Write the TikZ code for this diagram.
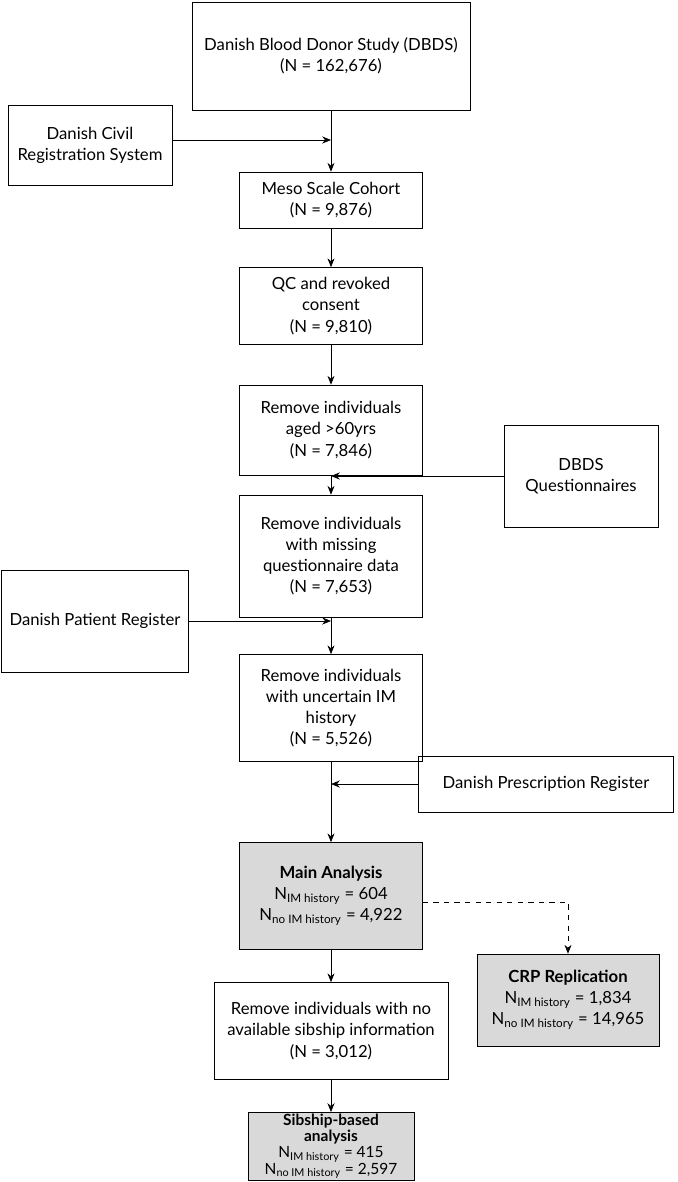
\documentclass[tikz,border=0pt]{standalone}
\usepackage{fontspec}
\setmainfont{Lato}
\usetikzlibrary{arrows.meta}
\tikzstyle{boxes} = [rectangle, draw=black, align=center, font=\fontsize{9.5}{12}\selectfont, inner sep=2pt]
\tikzstyle{grey} = [boxes, fill=black!15]
\tikzstyle{arrow} = [-{Stealth[length=5pt,width=4pt]}]
\tikzstyle{darrow} = [arrow, dashed]
\newcommand{\Nsub}[1]{N\textsubscript{#1}}
\begin{document}
\begin{tikzpicture}[x=0.02cm, y=-0.02cm]
            \useasboundingbox (0,0) rectangle (677,1182);
            % Draw Boxes
            \node(dbds) [boxes, minimum width=5.56cm, minimum height=2.16cm] at (331,56) {Danish Blood Donor Study (DBDS)\\(N = 162,676)};
            \node(civil) [boxes, minimum width=3.28cm, minimum height=1.6cm] at (90,145) {Danish Civil\\Registration System};
            \node(meso) [boxes, minimum width=3.66cm, minimum height=1.12cm] at (331,200) {Meso Scale Cohort\\(N = 9,876)};
            \node(qc) [boxes, minimum width=3.66cm, minimum height=1.54cm] at (331,306) {QC and revoked\\consent\\(N = 9,810)};
            \node(aged) [boxes, minimum width=3.66cm, minimum height=1.8cm] at (331,430) {Remove individuals\\aged >60yrs\\(N = 7,846)};
            \node(quest) [boxes, minimum width=3.08cm, minimum height=2.04cm] at (581,476) {DBDS\\Questionnaires};
            \node(missing) [boxes, minimum width=3.66cm, minimum height=2.44cm] at (331,556) {Remove individuals\\with missing\\questionnaire data\\(N = 7,653)};
            \node(patient) [boxes, minimum width=3.74cm, minimum height=2.04cm] at (95,621) {Danish Patient Register};
            \node(uncertain) [boxes, minimum width=3.66cm, minimum height=2.14cm] at (331,708) {Remove individuals\\with uncertain IM\\history\\(N = 5,526)};
            \node(prescr) [boxes, minimum width=5.1cm, minimum height=1.12cm] at (546,784) {Danish Prescription Register};
            \node(main) [grey, minimum width=3.66cm, minimum height=2.14cm] at (331,896) {\textbf{Main Analysis}\\\Nsub{IM history} = 604\\\Nsub{no IM history} = 4,922};
            \node(sib) [boxes, minimum width=4.68cm, minimum height=1.94cm] at (331,1031) {Remove individuals with no\\available sibship information\\(N = 3,012)};
            \node(crp) [grey, minimum width=3.64cm, minimum height=1.84cm] at (568,1000) {\textbf{CRP Replication}\\\Nsub{IM history} = 1,834\\\Nsub{no IM history} = 14,965};
            \node(sibana) [grey, anchor=north, minimum width=3.32cm, minimum height=1.32cm, inner sep=1pt, font=\fontsize{8.8}{9.2}\selectfont] at (331,1112) {\textbf{Sibship-based}\\\textbf{analysis}\\\Nsub{IM history} = 415\\\Nsub{no IM history} = 2,597};

            % Draw Arrows
            \draw[arrow] (dbds) -- (meso);
            \draw[arrow] (meso) -- (qc);
            \draw[arrow] (qc) -- (aged);
            \draw[arrow] (aged) -- (missing);
            \draw[arrow] (missing) -- (uncertain);
            \draw[arrow] (uncertain) -- (main);
            \draw[arrow] (main) -- (sib);
            \draw[arrow] (sib) -- (sibana);
            \draw[arrow] ([yshift=0.1cm]civil.east) -- ([yshift=0.1cm]civil.east -| dbds.south);
            \draw[arrow] (quest.west) -- (quest.west -| aged.south);
            \draw[arrow] (patient.east) -- (patient.east -| missing.south);
            \draw[arrow] (prescr.west) -- (prescr.west -| uncertain.south);
            \draw[darrow] ([yshift=-0.12cm]main.east) -| (crp.north);
        \end{tikzpicture}
\end{document}
